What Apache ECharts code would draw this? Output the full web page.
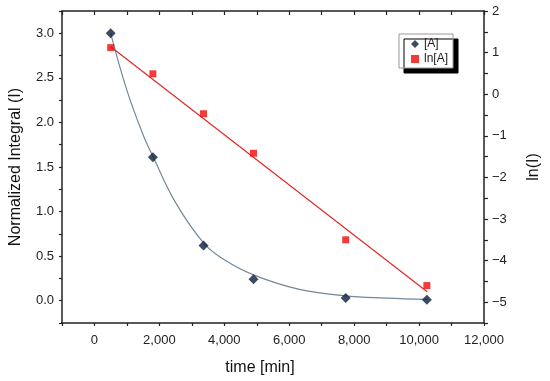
<!DOCTYPE html>
<html>
<head>
<meta charset="utf-8">
<script src="https://cdn.jsdelivr.net/npm/echarts@6/dist/echarts.min.js"></script>
<style>html,body{margin:0;padding:0;background:#fff;}#c{width:550px;height:381px;}</style>
</head>
<body>
<div id="c"></div>
<script>
// Data
var timeMin = [500, 1800, 3360, 4900, 7740, 10240];
var concA = [3.0, 1.61, 0.62, 0.24, 0.03, 0.01];
var lnA = [1.12, 0.49, -0.47, -1.42, -3.50, -4.60];
// Exponential fit curve
var fitTime = [500, 1000, 1500, 1800, 2500, 3380, 4000, 4900, 6280, 7710, 9000, 10250];
var fitConc = [3.0, 2.36, 1.86, 1.62, 1.10, 0.64, 0.46, 0.29, 0.13, 0.055, 0.03, 0.015];
// Linear fit of ln[A]
var lnFitTime = [500, 10250];
var lnFitVal = [1.14, -4.75];

var seriesNames = ['[A]', 'ln[A]'];

function zip(a, b) { return a.map(function (v, i) { return [v, b[i]]; }); }

var FONT = 'Liberation Sans, Arial, sans-serif';
var axisCol = '#222';

var chart = echarts.init(document.getElementById('c'), null, { renderer: 'canvas' });
chart.setOption({
  animation: false,
  backgroundColor: '#fff',
  grid: { left: 61, right: 63, top: 11, bottom: 57 },
  legend: {
    data: [{ name: seriesNames[0], icon: 'diamond' }, { name: seriesNames[1], icon: 'rect' }],
    orient: 'vertical',
    left: 399, top: 34,
    itemWidth: 8, itemHeight: 8, itemGap: 3,
    padding: [4, 5, 3, 12],
    backgroundColor: '#fff',
    borderColor: '#999', borderWidth: 1,
    shadowColor: '#000', shadowBlur: 0, shadowOffsetX: 5, shadowOffsetY: 5,
    textStyle: { fontFamily: FONT, fontSize: 12, color: '#222' }
  },
  xAxis: [{
    type: 'value', position: 'bottom', min: -1000, max: 12000, interval: 1000,
    name: 'time [min]', nameLocation: 'middle', nameGap: 37,
    nameTextStyle: { fontFamily: FONT, fontSize: 16, color: '#111', padding: [0, 26, 0, 0] },
    axisLine: { onZero: false, lineStyle: { color: axisCol, width: 1.5 } },
    axisTick: { show: true, inside: false, length: 3, lineStyle: { color: axisCol, width: 1.2 } },
    splitLine: { show: false },
    axisLabel: {
      fontFamily: FONT, fontSize: 13, color: '#222', margin: 11,
      formatter: function (v) {
        if (v < 0 || Math.round(v) % 2000 !== 0) return '';
        return v.toLocaleString('en-US');
      }
    }
  }, {
    type: 'value', position: 'top', min: -1000, max: 12000, interval: 1000,
    axisLine: { onZero: false, lineStyle: { color: axisCol, width: 1.5 } },
    axisTick: { show: true, inside: true, length: 4, lineStyle: { color: axisCol, width: 1.2 } },
    axisLabel: { show: false }, splitLine: { show: false }
  }],
  yAxis: [{
    type: 'value', position: 'left', min: -0.25, max: 3.25, interval: 0.25,
    name: 'Normalized Integral (I)', nameLocation: 'middle', nameGap: 38, nameRotate: 90,
    nameTextStyle: { fontFamily: FONT, fontSize: 16, color: '#111' },
    axisLine: { onZero: false, lineStyle: { color: axisCol, width: 1.5 } },
    axisTick: { show: true, inside: false, length: 3, lineStyle: { color: axisCol, width: 1.2 } },
    splitLine: { show: false },
    axisLabel: {
      fontFamily: FONT, fontSize: 13, color: '#222', margin: 8,
      formatter: function (v) {
        var h = v * 2;
        if (Math.abs(h - Math.round(h)) > 1e-6 || v < -1e-6 || v > 3.01) return '';
        return v.toFixed(1);
      }
    }
  }, {
    type: 'value', position: 'right', min: -5.5, max: 2, interval: 0.5,
    name: 'ln(I)', nameLocation: 'middle', nameGap: 42, nameRotate: 90,
    nameTextStyle: { fontFamily: FONT, fontSize: 16, color: '#111' },
    axisLine: { onZero: false, lineStyle: { color: axisCol, width: 1.5 } },
    axisTick: { show: true, inside: false, length: 4, lineStyle: { color: axisCol, width: 1.2 } },
    splitLine: { show: false },
    axisLabel: {
      fontFamily: FONT, fontSize: 13, color: '#222', margin: 8,
      formatter: function (v) {
        if (Math.abs(v - Math.round(v)) > 1e-6) return '';
        return v < 0 ? '\u2212' + Math.abs(v) : String(v);
      }
    }
  }],
  series: [{
    name: 'fitA', type: 'line', xAxisIndex: 0, yAxisIndex: 0,
    data: zip(fitTime, fitConc), smooth: 0.4, showSymbol: false, symbol: 'none',
    lineStyle: { color: '#738899', width: 1.2 }, z: 2, silent: true
  }, {
    name: 'fitLn', type: 'line', xAxisIndex: 0, yAxisIndex: 1,
    data: zip(lnFitTime, lnFitVal), showSymbol: false, symbol: 'none',
    lineStyle: { color: '#e3231f', width: 1.1 }, z: 2, silent: true
  }, {
    name: seriesNames[0], type: 'scatter', xAxisIndex: 0, yAxisIndex: 0,
    data: zip(timeMin, concA), symbol: 'diamond', symbolSize: [10, 10],
    itemStyle: { color: '#0a1f3c' }, z: 3
  }, {
    name: seriesNames[1], type: 'scatter', xAxisIndex: 0, yAxisIndex: 1,
    data: zip(timeMin, lnA), symbol: 'rect', symbolSize: 7,
    itemStyle: { color: '#f00a0a' }, z: 3
  }]
});
</script>
</body>
</html>
